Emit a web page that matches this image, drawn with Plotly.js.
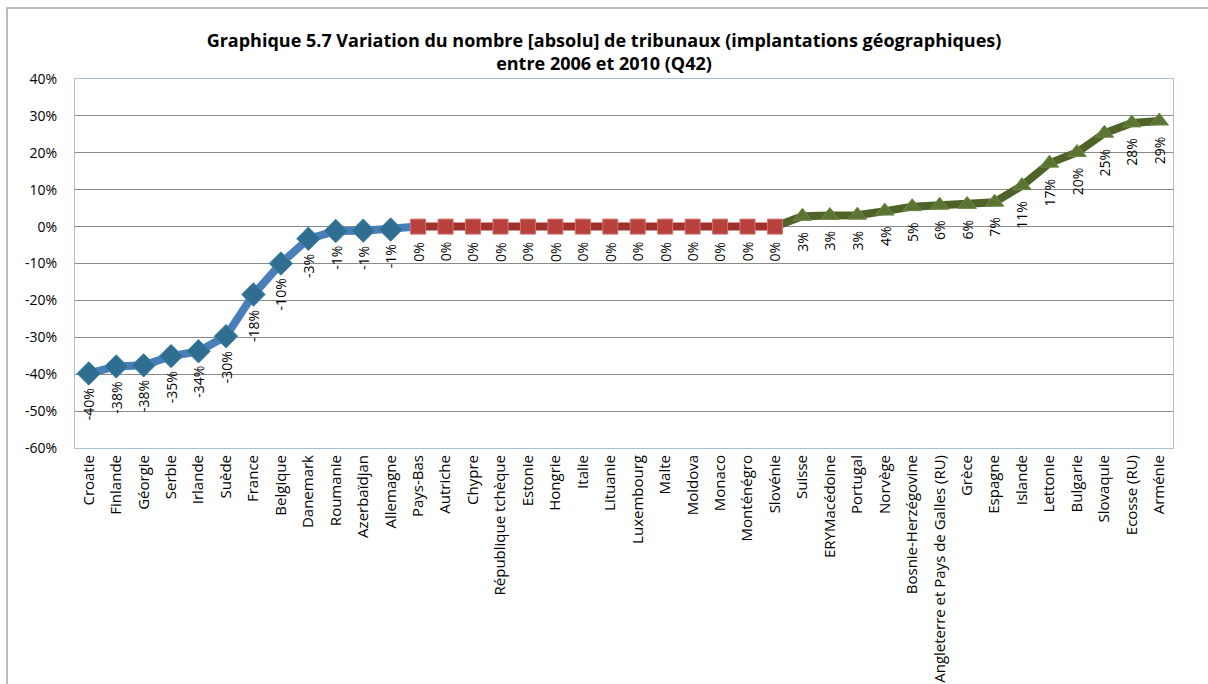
<!DOCTYPE html>
<html>
<head>
<meta charset="utf-8">
<script src="https://cdn.plot.ly/plotly-3.0.1.min.js"></script>
<style>
  html, body { margin: 0; padding: 0; background: #ffffff; }
  #chart { width: 1208px; height: 684px; }
</style>
</head>
<body>
<div id="chart"></div>
<script>
// Decreasing number of courts (blue)
const negCountries = ["Croatie", "Finlande", "Géorgie", "Serbie", "Irlande", "Suède", "France",
  "Belgique", "Danemark", "Roumanie", "Azerbaïdjan", "Allemagne"];
const negValues = [-39.8, -37.9, -37.6, -35.1, -33.8, -29.7, -18.4, -10.0, -3.3, -1.2, -1.1, -0.8];

// No change (red)
const zeroCountries = ["Pays-Bas", "Autriche", "Chypre", "République tchèque", "Estonie", "Hongrie",
  "Italie", "Lituanie", "Luxembourg", "Malte", "Moldova", "Monaco", "Monténégro", "Slovénie"];
const zeroValues = [0, 0, 0, 0, 0, 0, 0, 0, 0, 0, 0, 0, 0, 0];

// Increasing number of courts (green)
const posCountries = ["Suisse", "ERYMacédoine", "Portugal", "Norvège", "Bosnie-Herzégovine",
  "Angleterre et Pays de Galles (RU)", "Grèce", "Espagne", "Islande", "Lettonie", "Bulgarie",
  "Slovaquie", "Ecosse (RU)", "Arménie"];
const posValues = [2.8, 3.0, 3.1, 4.2, 5.4, 5.8, 6.0, 6.6, 11.1, 17.2, 20.1, 25.3, 28.1, 28.6];

const yTickVals = [-60, -50, -40, -30, -20, -10, 0, 10, 20, 30, 40];
const yTickText = yTickVals.map(v => v + "%");

const FONT = "Open Sans, Noto Sans, sans-serif";
const allCountries = negCountries.concat(zeroCountries, posCountries);
const allValues = negValues.concat(zeroValues, posValues);

const traces = [
  { // blue line, continues to first zero point
    x: negCountries.concat([zeroCountries[0]]),
    y: negValues.concat([zeroValues[0]]),
    mode: "lines", line: { color: "#4a7ebb", width: 8 }, hoverinfo: "skip"
  },
  { // green line, starts from last zero point
    x: [zeroCountries[zeroCountries.length - 1]].concat(posCountries),
    y: [zeroValues[zeroValues.length - 1]].concat(posValues),
    mode: "lines", line: { color: "#4f6228", width: 8 }, hoverinfo: "skip"
  },
  {
    x: zeroCountries, y: zeroValues,
    mode: "lines", line: { color: "#a2302c", width: 8 }, hoverinfo: "skip"
  },
  {
    x: negCountries, y: negValues, mode: "markers",
    marker: { symbol: "diamond", size: 18, color: "#2f6e91", line: { color: "#3f85a8", width: 1 } }
  },
  {
    x: zeroCountries, y: zeroValues, mode: "markers",
    marker: { symbol: "square", size: 15, color: "#b8413d", line: { color: "#d0726e", width: 1 } }
  },
  {
    x: posCountries, y: posValues, mode: "markers",
    marker: { symbol: "triangle-up", size: 16, color: "#5b7333", line: { color: "#6f8a45", width: 1 } }
  }
];

const annotations = allCountries.map((c, i) => ({
  x: c, y: allValues[i], xref: "x", yref: "y",
  text: Math.round(allValues[i]) + "%",
  textangle: -90, showarrow: false,
  xanchor: "center", yanchor: "top", yshift: -13,
  font: { family: FONT, size: 14, color: "#000000" }
}));

const layout = {
  width: 1208, height: 684,
  margin: { l: 75, r: 35, t: 79, b: 236 },
  paper_bgcolor: "#ffffff", plot_bgcolor: "#ffffff",
  showlegend: false,
  font: { family: FONT, color: "#000000" },
  title: {
    text: "<b>Graphique 5.7 Variation du nombre [absolu] de tribunaux (implantations géographiques)</b><br><b>entre 2006 et 2010 (Q42)</b>",
    font: { family: FONT, size: 18, color: "#000000" },
    x: 0.5, xref: "container", xanchor: "center",
    y: 0.932, yref: "container", yanchor: "top"
  },
  xaxis: {
    type: "category", categoryorder: "array", categoryarray: allCountries,
    tickangle: -90, ticks: "", showgrid: false, zeroline: false,
    showline: true, mirror: true, linecolor: "#a7bfde", linewidth: 1,
    tickfont: { family: FONT, size: 15, color: "#000000" },
    automargin: false, range: [-0.5, allCountries.length - 0.5], fixedrange: true
  },
  yaxis: {
    range: [-60, 40], tickvals: yTickVals, ticktext: yTickText,
    showgrid: true, gridcolor: "#8a8a8a", gridwidth: 1,
    zeroline: true, zerolinecolor: "#8a8a8a", zerolinewidth: 1,
    showline: true, mirror: true, linecolor: "#a7bfde", linewidth: 1,
    ticks: "outside", ticklen: 14, tickcolor: "rgba(0,0,0,0)",
    tickfont: { family: FONT, size: 14, color: "#000000" },
    automargin: false, fixedrange: true
  },
  annotations: annotations,
  shapes: [{
    type: "rect", xref: "paper", yref: "paper", layer: "below",
    x0: (7 - 75) / 1098, x1: (1220 - 75) / 1098,
    y0: (448 - 700) / 369, y1: (448 - 8) / 369,
    line: { color: "#a6a6a6", width: 1.5 }, fillcolor: "rgba(0,0,0,0)"
  }]
};

Plotly.newPlot("chart", traces, layout, { displayModeBar: false, staticPlot: true });
</script>
</body>
</html>
